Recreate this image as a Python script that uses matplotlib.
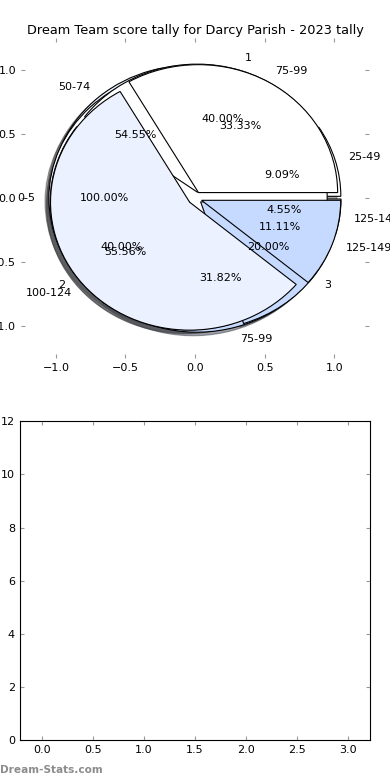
import matplotlib
matplotlib.use("Agg")
import matplotlib.pyplot as plt

# ---- data ----
title = "Dream Team score tally for Darcy Parish - 2023 tally"

pie_c_labels = ["25-49", "50-74", "75-99", "125-149"]
pie_c_values = [2, 12, 7, 1]

pie_d_labels = ["0-5"]
pie_d_values = [1]

pie_a_labels = ["1", "2", "3"]
pie_a_values = [2, 2, 1]

pie_b_labels = ["75-99", "100-124", "125-149"]
pie_b_values = [3, 5, 1]

pie_colors = ["#FFFFFF", "#EBF1FF", "#C6DAFF"]

bar_xticks = [0.0, 0.5, 1.0, 1.5, 2.0, 2.5, 3.0]
bar_yticks = [0, 2, 4, 6, 8, 10, 12]

# ---- style ----
plt.rcParams.update({
    "font.family": "DejaVu Sans",
    "font.size": 8,
    "xtick.direction": "in",
    "ytick.direction": "in",
    "xtick.top": True,
    "ytick.right": True,
    "xtick.color": "#999999",
    "ytick.color": "#999999",
    "xtick.labelcolor": "black",
    "ytick.labelcolor": "black",
    "xtick.major.size": 3,
    "ytick.major.size": 3,
})

fig = plt.figure(figsize=(3.9, 7.8), dpi=100)
ax1 = fig.add_axes([0.054, 0.541, 0.892, 0.410])
ax2 = fig.add_axes([0.051, 0.051, 0.898, 0.409])

for vals, labs in [(pie_c_values, pie_c_labels),
                   (pie_d_values, pie_d_labels),
                   (pie_a_values, pie_a_labels),
                   (pie_b_values, pie_b_labels)]:
    cols = [pie_colors[i % len(pie_colors)] for i in range(len(vals))]
    ax1.pie(vals, labels=labs, colors=cols, autopct="%1.2f%%",
            explode=[0.05] * len(vals), shadow=True, startangle=0,
            wedgeprops=dict(edgecolor="black", linewidth=0.8),
            textprops=dict(fontsize=8))

ax1.set_aspect("auto")
ax1.set_frame_on(False)
ax1.set_xlim(-1.25, 1.25)
ax1.set_ylim(-1.25, 1.25)
ax1.set_xticks([-1.0, -0.5, 0.0, 0.5, 1.0])
ax1.set_yticks([-1.0, -0.5, 0.0, 0.5, 1.0])
ax1.tick_params(labelsize=8)
ax1.set_title(title, fontsize=9.3, pad=3)

ax2.set_xlim(-0.215, 3.215)
ax2.set_ylim(0, 12)
ax2.set_xticks(bar_xticks)
ax2.set_yticks(bar_yticks)
ax2.tick_params(labelsize=8)

fig.text(0.0, 0.013, "Dream-Stats.com", fontsize=7.6, color="#8c8c8c",
         fontweight="bold", ha="left", va="center")

fig.savefig("out.png", dpi=100)
